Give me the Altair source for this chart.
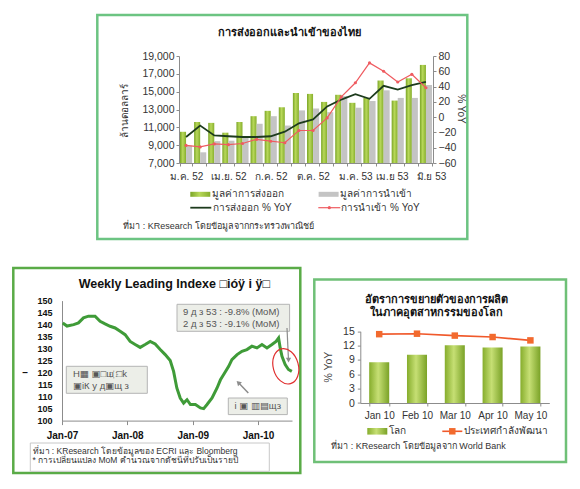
import altair as alt
import pandas as pd

# ---------------- Thai exports / imports (million USD) ----------------
months = ["ม.ค. 52", "ก.พ. 52", "มี.ค. 52", "เม.ย. 52", "พ.ค. 52", "มิ.ย. 52",
          "ก.ค. 52", "ส.ค. 52", "ก.ย. 52", "ต.ค. 52", "พ.ย. 52", "ธ.ค. 52",
          "ม.ค. 53", "ก.พ. 53", "มี.ค. 53", "เม.ย 53", "พ.ค. 53", "มิ.ย 53"]
shown_months = ["ม.ค. 52", "เม.ย. 52", "ก.ค. 52", "ต.ค. 52", "ม.ค. 53", "เม.ย 53", "มิ.ย 53"]
export_value = [10500, 11600, 11500, 10400, 11600, 12250, 12850, 13250, 14850,
                14750, 13850, 14650, 13750, 14300, 16250, 14000, 16500, 18000]
import_value = [8950, 8200, 9450, 9500, 9900, 11400, 12250, 11200, 12900,
                13100, 12700, 14500, 13200, 13950, 15150, 14300, 14300, 15750]
export_yoy = [-26, -11, -24, -25, -26, -26, -25, -19, -8, -3, 14, 23, 30, 24, 41, 36, 42, 46]
import_yoy = [-37, -39, -35, -36, -34.5, -29, -31.5, -33.5, -17.5, -17.5, -1, 26.5, 45, 71, 60, 46, 56, 38.5]

# ---------------- Weekly leading index ----------------
wli_dates = ["2007-01-05", "2007-01-29", "2007-03-07", "2007-04-03", "2007-05-01", "2007-05-29",
             "2007-07-05", "2007-08-02", "2007-08-30", "2007-09-27", "2007-10-25", "2007-11-22",
             "2007-12-20", "2008-01-17", "2008-02-14", "2008-03-13", "2008-04-10", "2008-05-08",
             "2008-06-05", "2008-07-03", "2008-07-31", "2008-08-28", "2008-09-16", "2008-10-04",
             "2008-10-23", "2008-11-11", "2008-11-30", "2008-12-19", "2009-01-16", "2009-02-13",
             "2009-03-03", "2009-03-22", "2009-04-19", "2009-05-17", "2009-06-05", "2009-06-23",
             "2009-07-21", "2009-08-08", "2009-09-06", "2009-10-03", "2009-10-31", "2009-11-28",
             "2009-12-26", "2010-01-23", "2010-02-20", "2010-03-20", "2010-04-12", "2010-04-26",
             "2010-05-05", "2010-05-15", "2010-06-02", "2010-06-20", "2010-07-09"]
wli_values = [140.7, 139.4, 140.0, 140.7, 142.8, 143.5, 143.5, 141.4, 140.3, 139.3, 138.6, 137.2,
              135.8, 133.0, 131.7, 130.5, 131.7, 133.0, 131.9, 129.6, 127.5, 125.0, 120.5, 113.6,
              109.4, 107.3, 108.7, 106.7, 106.7, 105.3, 105.0, 106.7, 109.4, 113.6, 117.0, 119.2,
              122.6, 125.4, 127.5, 128.9, 129.6, 131.0, 130.3, 131.7, 130.3, 131.7, 133.0, 134.4,
              130.3, 126.8, 123.3, 121.3, 120.5]
wli_ticks = [2007, 2008, 2009, 2010]

# ---------------- Industrial production growth (% YoY) ----------------
ip_months = ["Jan 10", "Feb 10", "Mar 10", "Apr 10", "May 10"]
ip_world = [8.5, 10.1, 12.1, 11.6, 11.8]
ip_developing = [14.4, 14.5, 14.1, 13.8, 13.1]

FONT = "Liberation Sans, DejaVu Sans, sans-serif"
TXT = "#333333"


def one_row():
    return alt.Data(values=[{"k": 0}])


def text(s, x, y, size=10, color=TXT, weight="normal", align="left", angle=0):
    return alt.Chart(one_row()).mark_text(
        text=s, fontSize=size, color=color, fontWeight=weight, align=align,
        baseline="middle", font=FONT, angle=angle
    ).encode(x=alt.value(x), y=alt.value(y))


def box(x, x2, y, y2, stroke="#aaaaaa", fill="transparent", sw=1.0):
    return alt.Chart(one_row()).mark_rect(fill=fill, stroke=stroke, strokeWidth=sw).encode(
        x=alt.value(x), x2=alt.value(x2), y=alt.value(y), y2=alt.value(y2))


def seg(x, y, x2, y2, color, sw=1.0):
    return alt.Chart(one_row()).mark_rule(color=color, strokeWidth=sw).encode(
        x=alt.value(x), y=alt.value(y), x2=alt.value(x2), y2=alt.value(y2))


def dot(x, y, shape, size, color, filled=True, angle=0, sw=1.0):
    return alt.Chart(one_row()).mark_point(
        shape=shape, size=size, filled=filled, color=color, angle=angle,
        strokeWidth=sw, opacity=1
    ).encode(x=alt.value(x), y=alt.value(y))


def hgrad(c_edge, c_mid, c_edge2):
    return alt.Gradient(gradient="linear", x1=0, x2=1, y1=0, y2=0, stops=[
        alt.GradientStop(color=c_edge, offset=0),
        alt.GradientStop(color=c_mid, offset=0.45),
        alt.GradientStop(color=c_edge2, offset=1)])


green_bar = hgrad("#7aa526", "#b8d85a", "#86ae2c")

# ======================= Panel 1: Thai trade =======================
TOP_W, TOP_H, TOP_X0 = 371, 107, 117
series_order = ["ส่งออก", "นำเข้า"]
trade = pd.DataFrame({
    "month": months * 2,
    "series": [series_order[0]] * len(months) + [series_order[1]] * len(months),
    "value": export_value + import_value,
})
yoy = pd.DataFrame({"month": months, "exp": export_yoy, "imp": import_yoy})

label_test = "indexof(" + str(shown_months) + ", datum.value) >= 0 ? datum.value : ''"
label_shift = {"condition": [{"test": "datum.value == 'เม.ย 53'", "value": -6},
                             {"test": "datum.value == 'มิ.ย 53'", "value": 5}],
               "value": 0}
x_top = alt.X("month:N", sort=months, title=None,
              scale=alt.Scale(domain=months, range=[TOP_X0, TOP_W], paddingInner=0.14, paddingOuter=0.07),
              axis=alt.Axis(labelExpr=label_test, labelAngle=0, labelOverlap=False, tickBand="extent",
                            labelOffset=label_shift,
                            tickSize=3, labelPadding=5, labelFontSize=10, labelColor=TXT, labelFont=FONT,
                            domainColor="#8c8c8c", tickColor="#8c8c8c"))
x_off = alt.XOffset("series:N", sort=series_order, scale=alt.Scale(domain=series_order, paddingInner=0))
# the left axis is pulled in to sit where the bar band begins
y_left = alt.Y("value:Q", title=None,
               scale=alt.Scale(domain=[7000, 19000], nice=False, zero=False),
               axis=alt.Axis(values=list(range(7000, 19001, 2000)), format=",.0f", offset=-TOP_X0, grid=False,
                             tickSize=3, labelPadding=2, labelFontSize=10.5, labelColor=TXT, labelFont=FONT,
                             domainColor="#8c8c8c", tickColor="#8c8c8c"))
right_axis = alt.Axis(values=list(range(-60, 81, 20)), orient="right", grid=False, tickSize=3, labelPadding=2,
                      labelFontSize=10.5, labelColor=TXT, labelFont=FONT,
                      domainColor="#8c8c8c", tickColor="#8c8c8c")
right_scale = alt.Scale(domain=[-60, 80], nice=False)

bars_exp = alt.Chart(trade).transform_filter(alt.datum.series == series_order[0]).mark_bar(
    fill=green_bar).encode(x=x_top, xOffset=x_off, y=y_left, y2=alt.datum(7000))
bars_imp = alt.Chart(trade).transform_filter(alt.datum.series == series_order[1]).mark_bar(
    color="#c4c4c4").encode(x=x_top, xOffset=x_off, y=y_left, y2=alt.datum(7000))
line_exp = alt.Chart(yoy).mark_line(color="#1d3b1d", strokeWidth=1.8).encode(
    x=x_top, y=alt.Y("exp:Q", title=None, scale=right_scale, axis=right_axis))
line_imp = alt.Chart(yoy).mark_line(
    color="#ef5b60", strokeWidth=1.2,
    point=alt.OverlayMarkDef(color="#ef5b60", size=10, filled=True)
).encode(x=x_top, y=alt.Y("imp:Q", title=None, scale=right_scale, axis=right_axis))

top = alt.layer(
    box(35.3, 405.3, -41, 183, stroke="#6cc482", sw=2.5),
    alt.layer(bars_exp, bars_imp),
    alt.layer(line_exp, line_imp),
    text("การส่งออกและนำเข้าของไทย", 227.3, -23.3, size=11, weight="bold", align="center", color="#111111"),
    text("ล้านดอลลาร์", 63.3, 55, size=10, align="center", angle=270),
    text("% YoY", 399.3, 53, size=10, align="center", angle=90),
    box(128.3, 148.3, 135.8, 140.8, stroke="transparent", fill=green_bar, sw=0),
    text("มูลค่าการส่งออก", 150.3, 138.3, size=10),
    box(256.6, 276.6, 135.8, 140.8, stroke="transparent", fill="#c4c4c4", sw=0),
    text("มูลค่าการนำเข้า", 278.3, 138.3, size=10),
    seg(128.3, 151.7, 149.3, 151.7, "#1d3b1d", 1.8),
    text("การส่งออก % YoY", 151.3, 151.7, size=10),
    seg(256.3, 151.7, 278.3, 151.7, "#ef5b60", 1.2),
    dot(267.3, 151.7, "circle", 10, "#ef5b60"),
    text("การนำเข้า % YoY", 279.3, 151.7, size=10),
    text("ที่มา : KResearch โดยข้อมูลจากกระทรวงพาณิชย์", 61.3, 170, size=9),
).resolve_scale(y="independent").properties(width=TOP_W, height=TOP_H)

# ======================= Panel 2: weekly leading index =======================
BL_W, BL_H = 230, 120
wli = pd.DataFrame({"date": wli_dates, "value": wli_values})
wli_line = alt.Chart(wli).mark_line(color="#3f9b38", strokeWidth=3).encode(
    x=alt.X("date:T", title=None,
            scale=alt.Scale(type="utc", domain=[alt.DateTime(year=2007, month=1, date=1, utc=True),
                                                alt.DateTime(year=2010, month=7, date=10, utc=True)]),
            axis=alt.Axis(values=[alt.DateTime(year=y, month=1, date=1, utc=True) for y in wli_ticks],
                          format="%b-%y", labelFlush=False, tickSize=4, labelPadding=6,
                          labelFontSize=10, labelFontWeight="bold", labelColor="#111111", labelFont=FONT,
                          domainColor="#8c8c8c", tickColor="#8c8c8c", grid=False)),
    y=alt.Y("value:Q", title=None, scale=alt.Scale(domain=[100, 150], nice=False, zero=False),
            axis=alt.Axis(values=list(range(100, 151, 5)), ticks=False, labelPadding=10, grid=False,
                          labelFontSize=9, labelFontWeight="bold", labelColor="#111111", labelFont=FONT,
                          domainColor="#8c8c8c")),
)

ellipse = "M0,-1A0.7,1 0 1,1 0,1A0.7,1 0 1,1 0,-1Z"
note = "#555555"
bl = alt.layer(
    box(-48.7, 238.3, -32.6, 172.4, stroke="#5aab47", sw=2.5),
    wli_line,
    text("Weekly Leading Indexe □ióÿ i ÿ□", 112.3, -16.3, size=12.5, weight="bold", align="center", color="#111111"),
    text("–", -39.7, 72.7, size=10, weight="bold", color="#111111"),
    box(115, 227.6, 3.7, 30.7, stroke="#b4b4b4", fill="#eceee8"),
    text("9 д з   53 : -9.8% (MoM)", 121, 11.7, size=9.5, color=note),
    text("2 д з   53 : -9.1% (MoM)", 121, 23.4, size=9.5, color=note),
    box(4.3, 85.3, 65.7, 92.7, stroke="#b4b4b4", fill="#eceee8"),
    text("H▦ ▣□ш҉ □k", 11, 73, size=9.5, color=note),
    text("▣iК y д▣щ з", 11, 85.7, size=9.5, color=note),
    box(166.3, 225.3, 97.4, 114, stroke="#b4b4b4", fill="#eceee8"),
    text("i ▣ ▥▤щз", 195.8, 105.7, size=9.5, color=note, align="center"),
    seg(225, 27.4, 226.4, 57.5, "#8c8c8c", 1.2),
    dot(226.5, 59.5, "triangle-down", 28, "#8c8c8c"),
    seg(186.3, 92.4, 177.5, 83.2, "#8c8c8c", 1.5),
    dot(176.3, 82, "triangle-up", 30, "#8c8c8c", angle=315),
    dot(223.8, 65.7, ellipse, 1296, "#e03030", filled=False, angle=345, sw=1.2),
    box(-31.7, 207.3, 142.4, 170.7, stroke="#c8c8c8", fill="#ffffff"),
    text("ที่มา : KResearch โดยข้อมูลของ ECRI และ Bloomberg", -29.5, 150, size=8.5),
    text("* การเปลี่ยนแปลง MoM คำนวณจากดัชนีที่ปรับเป็นรายปี", -29.5, 159.5, size=8.5),
).properties(width=BL_W, height=BL_H)

# ======================= Panel 3: industrial production =======================
BR_W, BR_H = 189, 102.4
ip = pd.DataFrame({"month": ip_months, "world": ip_world, "dev": ip_developing})
x_ip = alt.X("month:N", sort=ip_months, title=None,
             scale=alt.Scale(paddingInner=0.47, paddingOuter=0.235),
             axis=alt.Axis(labelAngle=0, tickBand="extent", tickSize=3, labelPadding=4,
                           labelFontSize=10, labelColor=TXT, labelFont=FONT,
                           domainColor="#8c8c8c", tickColor="#8c8c8c"))
ip_scale = alt.Scale(domain=[0, 15], range=[BR_H, 30.7], nice=False)
ip_axis = alt.Axis(values=[0, 3, 6, 9, 12, 15], grid=False, tickSize=3, labelPadding=3,
                   labelFontSize=10.5, labelColor=TXT, labelFont=FONT,
                   domainColor="#8c8c8c", tickColor="#8c8c8c")
ip_fill = hgrad("#86ad2c", "#c6df74", "#7aa227")
ip_bars = alt.Chart(ip).mark_bar(fill=ip_fill).encode(
    x=x_ip, y=alt.Y("world:Q", title=None, scale=ip_scale, axis=ip_axis))
ip_line = alt.Chart(ip).mark_line(color="#f0592b", strokeWidth=1.6).encode(
    x=x_ip, y=alt.Y("dev:Q", title=None, scale=ip_scale, axis=ip_axis))
ip_pts = alt.Chart(ip).mark_point(shape="square", filled=True, size=42, color="#f26a2e", opacity=1).encode(
    x=x_ip, y=alt.Y("dev:Q", title=None, scale=ip_scale, axis=ip_axis))

br = alt.layer(
    box(-46, 205.7, -21, 161.4, stroke="#6fc077", sw=2.5),
    ip_bars, ip_line, ip_pts,
    text("อัตราการขยายตัวของการผลิต", 75.7, -1, size=11, weight="bold", align="center", color="#111111"),
    text("ในภาคอุตสาหกรรมของโลก", 75.7, 12.4, size=11, weight="bold", align="center", color="#111111"),
    text("% YoY", -31, 66.5, size=10.5, align="center", angle=270, color="#444444"),
    box(7, 27, 127.4, 134, stroke="transparent", fill=ip_fill, sw=0),
    text("โลก", 29, 130.7, size=10),
    seg(82, 130.7, 102, 130.7, "#f0592b", 1.6),
    dot(92, 130.7, "square", 42, "#f26a2e"),
    text("ประเทศกำลังพัฒนา", 104, 130.7, size=10),
    text("ที่มา : KResearch โดยข้อมูลจาก World Bank", -29, 145.7, size=9),
).properties(width=BR_W, height=BR_H)

bottom = alt.hconcat(bl, br, spacing=68.3, bounds="flush")
chart = alt.vconcat(top, bottom, spacing=137.6, bounds="flush").properties(
    padding={"left": 12, "top": 13, "right": 5, "bottom": 5}
).configure(font=FONT, background="#ffffff").configure_view(stroke="transparent", strokeWidth=0)

chart.save("out.html", embed_options={"renderer": "svg", "actions": False})
